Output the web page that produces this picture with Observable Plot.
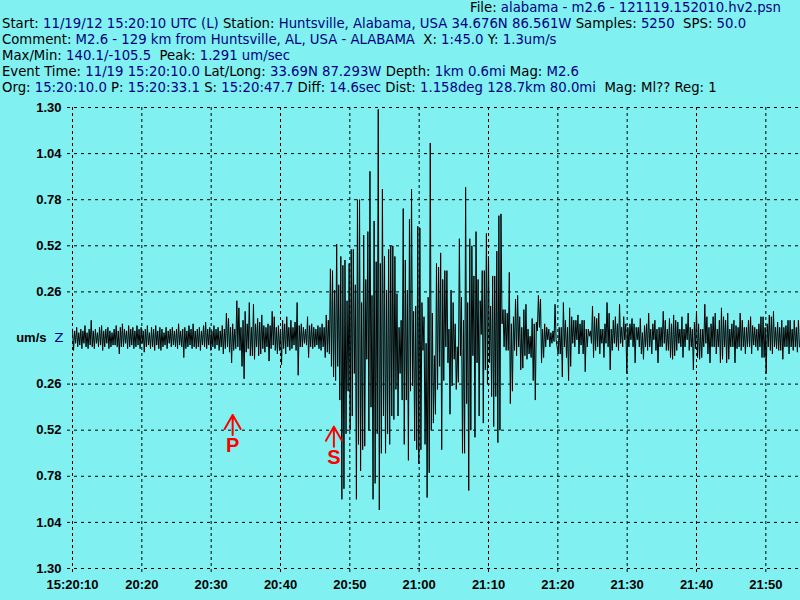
<!DOCTYPE html>
<html><head><meta charset="utf-8">
<script src="https://cdn.jsdelivr.net/npm/d3@7"></script>
<script src="https://cdn.jsdelivr.net/npm/@observablehq/plot@0.6"></script>
<style>
html,body{margin:0;padding:0;background:#80f0f0;}
#page{width:800px;height:600px;position:relative;overflow:hidden;background:#80f0f0;}
#header{position:relative;height:100px;font-family:"DejaVu Sans",sans-serif;font-size:13.25px;line-height:16px;color:#000;}
#header div{position:absolute;white-space:pre;}
.v{color:#000080;}
#chart svg{display:block;}
</style></head><body>
<div id="page">
<div id="header">
<div style="left:470px;top:0px">File: <span class="v">alabama - m2.6 - 121119.152010.hv2.psn</span></div>
<div style="left:2px;top:16px">Start: <span class="v">11/19/12 15:20:10 UTC (L)</span> Station: <span class="v">Huntsville, Alabama, USA 34.676N 86.561W</span> Samples: <span class="v">5250</span>  SPS: <span class="v">50.0</span></div>
<div style="left:2px;top:32px">Comment: <span class="v">M2.6 - 129 km from Huntsville, AL, USA - ALABAMA</span>  X: <span class="v">1:45.0</span> Y: <span class="v">1.3um/s</span></div>
<div style="left:2px;top:48px">Max/Min: <span class="v">140.1/-105.5</span>  Peak: <span class="v">1.291 um/sec</span></div>
<div style="left:2px;top:64px">Event Time: <span class="v">11/19 15:20:10.0</span> Lat/Long: <span class="v">33.69N 87.293W</span> Depth: <span class="v">1km 0.6mi</span> Mag: <span class="v">M2.6</span></div>
<div style="left:2px;top:80px">Org: <span class="v">15:20:10.0</span> P: <span class="v">15:20:33.1</span> S: <span class="v">15:20:47.7</span> Diff: <span class="v">14.6sec</span> Dist: <span class="v">1.158deg 128.7km 80.0mi</span>  Mag: Ml?? Reg: 1</div>
</div>
<div id="chart"></div>
</div>
<script>
// Envelope of the Z trace (um/s): one upper and one lower excursion per 0.3 s bin
const binSeconds = 0.3;
const upper = [
.05,.04,.06,.03,.05,.04,.07,.03,.05,.10,
.04,.05,.03,.06,.07,.04,.05,.06,.04,.03,
.05,.07,.04,.06,.08,.05,.04,.07,.05,.06,
.04,.07,.05,.06,.04,.05,.07,.03,.06,.05,
.07,.04,.06,.05,.03,.06,.04,.05,.06,.04,
.05,.08,.04,.05,.06,.04,.07,.05,.08,.04,
.05,.06,.04,.07,.09,.05,.06,.04,.07,.05,
.06,.04,.07,.05,.14,.11,.06,.08,.05,.21,
.17,.06,.10,.15,.08,.20,.06,.19,.08,.11,
.09,.13,.07,.06,.08,.07,.15,.12,.06,.07,
.05,.10,.08,.12,.06,.10,.06,.09,.20,.07,
.08,.06,.05,.12,.07,.08,.06,.05,.07,.06,
.08,.06,.13,.10,.39,.38,.27,.53,.30,.46,
.41,.44,.21,.42,.50,.50,.30,.78,.78,.20,
.58,.33,.60,.94,.24,.66,.43,1.29,.42,.84,
.46,.27,.50,.52,.52,.46,.25,.06,.10,.73,
.44,.27,.67,.84,.15,.18,.63,.62,.20,.12,
-.03,.23,1.10,.14,-.10,.42,.40,.48,.33,.38,
.38,.05,.27,.20,.08,-.05,.56,.23,.10,.85,
.20,.56,.52,.35,.60,.33,.21,.38,.38,.59,
.46,.18,.35,.35,.49,.69,.70,.16,.16,.14,
.37,.08,.12,.22,.24,.12,.06,.16,.19,.05,
.01,.11,.08,.09,.24,.22,.05,.08,.06,.05,
.03,.04,.19,-.05,.06,.06,.20,.10,.06,.17,
.12,.10,.10,.13,.08,.10,.10,.05,.05,.04,
.18,.12,.11,.14,.05,.05,.08,.20,.14,.05,
.10,.12,.08,.19,.06,.12,.08,.06,.08,.11,
.08,.06,.06,.11,.03,.07,.08,.14,.05,.08,
.10,.05,.06,.06,.15,.10,.05,.11,.08,.13,
.10,.09,.05,.12,.05,.08,.14,.06,.05,.09,
.15,.08,.05,.05,.19,.12,.06,.08,.12,.14,
.05,.10,.17,.12,.10,.14,.05,.08,.10,.07,
.06,.14,.10,.06,.06,.10,.12,.07,.06,.05,
.08,.12,.12,.06,.08,.13,.12,.15,.06,.09,
.06,.10,.06,.07,.10,.10,.05,.10,.06,.10
];
const lower = [
-.07,-.03,-.05,-.04,-.06,-.03,-.05,-.06,-.04,-.05,
-.06,-.03,-.05,-.04,-.07,-.05,-.03,-.06,-.05,-.04,
-.04,-.05,-.09,-.05,-.05,-.03,-.06,-.05,-.04,-.06,
-.05,-.04,-.06,-.03,-.08,-.05,-.04,-.06,-.05,-.07,
-.04,-.06,-.07,-.05,-.04,-.06,-.03,-.05,-.04,-.05,
-.06,-.04,-.05,-.11,-.06,-.05,-.04,-.06,-.05,-.06,
-.05,-.07,-.04,-.05,-.06,-.04,-.07,-.05,-.06,-.04,
-.07,-.05,-.09,-.06,-.05,-.08,-.14,-.07,-.06,-.05,
-.07,-.16,-.23,-.08,-.06,-.10,-.10,-.12,-.05,-.10,
-.09,-.06,-.08,-.05,-.13,-.06,-.04,-.07,-.09,-.07,
-.15,-.06,-.09,-.05,-.07,-.06,-.04,-.07,-.21,-.05,
-.05,-.03,-.04,-.11,-.05,-.06,-.05,-.04,-.06,-.07,
-.05,-.11,-.08,-.09,-.16,-.22,-.24,-.16,-.35,-.91,
-.85,-.54,-.30,-.52,-.44,-.20,-.91,-.60,-.75,-.63,
-.61,-.12,-.52,-.39,-.91,-.82,-.54,-.97,-.65,-.44,
-.65,-.54,-.60,-.44,-.46,-.29,-.44,-.20,-.35,-.60,
-.35,-.69,-.30,-.27,-.58,-.63,-.71,-.63,-.07,-.60,
-.90,-.76,-.52,-.48,-.43,-.29,-.16,-.63,-.24,-.05,
-.14,-.43,-.27,-.12,-.29,-.25,-.10,-.65,-.65,-.37,
-.86,-.52,-.10,-.56,-.14,-.44,.02,-.48,-.18,-.26,
-.14,-.33,-.50,-.33,-.59,-.52,.08,-.05,-.07,-.07,
-.37,-.30,-.07,-.10,-.05,-.18,-.17,-.10,-.12,-.09,
-.11,-.24,-.35,.04,.06,-.14,-.11,-.05,-.01,-.05,
-.03,-.02,-.01,-.09,-.09,-.22,-.05,-.11,-.24,-.16,
-.03,-.05,-.01,-.09,-.04,-.09,-.19,-.05,.01,-.03,
-.11,-.07,-.05,-.09,-.03,-.11,-.03,-.05,-.18,-.07,
-.03,-.05,-.07,-.03,-.05,-.01,-.20,-.05,-.01,-.05,
-.14,-.01,-.05,-.09,-.12,-.05,-.07,-.05,-.09,-.01,
-.07,-.14,-.05,-.05,-.03,-.07,-.07,-.11,-.12,-.10,
-.07,-.03,-.05,-.11,-.05,-.01,-.07,-.05,-.18,-.06,
-.11,-.12,-.11,-.05,-.03,-.09,-.14,-.05,-.05,-.09,
-.05,-.14,-.12,-.05,-.14,-.12,-.05,-.05,-.14,-.06,
-.05,-.07,-.05,-.09,-.05,-.05,-.09,-.04,-.05,-.07,
-.05,-.11,-.11,-.20,-.05,-.07,-.09,-.05,-.06,-.07,
-.07,-.12,-.05,-.05,-.09,-.05,-.07,-.05,-.08,-.05
];

const xTicks = [0,10,20,30,40,50,60,70,80,90,100];
const xTickLabels = ["15:20:10","20:20","20:30","20:40","20:50","21:00","21:10","21:20","21:30","21:40","21:50"];
const yTicks = [1.30,1.04,0.78,0.52,0.26,-0.26,-0.52,-0.78,-1.04,-1.30];

const picks = ["P","S"];
const pickTimes = [23.1, 37.7];
const pickTips = [-0.434, -0.50];

const trace = [];
upper.forEach((u, i) => {
  trace.push({t: i * binSeconds, v: u});
  trace.push({t: i * binSeconds + binSeconds / 2, v: lower[i]});
});
const pickData = picks.map((p, i) => ({label: p, t: pickTimes[i], tip: pickTips[i]}));

const arrowShape = {
  draw(ctx, l) {
    ctx.moveTo(0, 0); ctx.lineTo(0, -l);
    ctx.moveTo(-8, 14 - l); ctx.lineTo(0, -l); ctx.lineTo(8, 14 - l);
  }
};

const chart = Plot.plot({
  width: 800, height: 500,
  marginTop: 7, marginBottom: 32, marginLeft: 72, marginRight: 0,
  style: {background: "#80f0f0", color: "black", fontFamily: "'Liberation Sans', Arial, sans-serif", fontSize: "13px", fontWeight: "bold"},
  x: {domain: [0, 105], axis: null},
  y: {domain: [-1.3, 1.3], axis: null},
  marks: [
    Plot.ruleY(yTicks, {stroke: "black", strokeDasharray: "3,4", insetLeft: -5}),
    Plot.ruleX(xTicks, {stroke: "black", strokeDasharray: "3,3", insetBottom: -5}),
    Plot.text(yTicks, {y: d => d, frameAnchor: "left", dx: -11, textAnchor: "end", text: d => Math.abs(d).toFixed(2)}),
    Plot.text(xTicks, {x: d => d, frameAnchor: "bottom", dy: 20, text: (d, i) => xTickLabels[i]}),
    Plot.text([0], {y: d => d, frameAnchor: "left", dx: -26, textAnchor: "end", text: () => "um/s"}),
    Plot.text([0], {y: d => d, frameAnchor: "left", dx: -9, textAnchor: "end", text: () => "Z", fill: "#000080", fontWeight: "normal", fontFamily: "DejaVu Sans", fontSize: 13}),
    Plot.line(trace, {x: "t", y: "v", stroke: "black", strokeWidth: 1, clip: true}),
    Plot.vector(pickData, {x: "t", y: "tip", length: 20, rotate: 0, anchor: "end", shape: arrowShape, stroke: "red", strokeWidth: 2}),
    Plot.text(pickData, {x: "t", y: "tip", text: "label", dy: 31, fill: "red", fontSize: 20, fontWeight: "bold"})
  ]
});
document.getElementById("chart").appendChild(chart);
</script>
</body></html>
